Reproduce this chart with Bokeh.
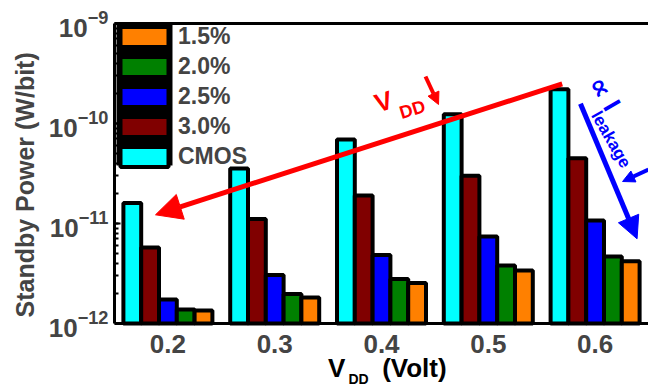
from bokeh.plotting import figure
from bokeh.models import (ColumnDataSource, Range1d, FixedTicker, Legend, LegendItem,
                          Arrow, NormalHead, Label, LabelSet, BoxAnnotation, Span, Title)
from bokeh.core.properties import value
from bokeh.transform import dodge
from bokeh.embed import file_html
from bokeh.resources import INLINE

# ---------------- data ----------------
vdd = ["0.2", "0.3", "0.4", "0.5", "0.6"]
cmos = [1.60e-11, 3.55e-11, 6.9e-11, 1.24e-10, 2.2e-10]
pct30 = [5.75e-12, 1.11e-11, 1.9e-11, 3.0e-11, 4.5e-11]
pct25 = [1.74e-12, 3.06e-12, 4.84e-12, 7.4e-12, 1.07e-11]
pct20 = [1.38e-12, 1.97e-12, 2.79e-12, 3.8e-12, 4.68e-12]
pct15 = [1.35e-12, 1.82e-12, 2.54e-12, 3.39e-12, 4.2e-12]

series_cols = ["cmos", "pct30", "pct25", "pct20", "pct15"]
series_names = ["CMOS", "3.0%", "2.5%", "2.0%", "1.5%"]
series_colors = ["#00FFFF", "#800000", "#0000FF", "#008000", "#FF8000"]
legend_order = ["1.5%", "2.0%", "2.5%", "3.0%", "CMOS"]

y_min, y_max = 1e-12, 1e-9          # axis span
y_view_min = 10 ** -12.63            # frame extends below the axis for the x-axis texts

idx = list(range(len(vdd)))
src = ColumnDataSource(dict(idx=idx, vdd=vdd, cmos=cmos, pct30=pct30, pct25=pct25,
                            pct20=pct20, pct15=pct15))

FONT = "Liberation Sans"

p = figure(width=648, height=386,
           x_range=Range1d(-0.5, len(vdd) - 0.5),
           y_range=Range1d(y_view_min, y_max), y_axis_type="log",
           x_axis_location="above",
           output_backend="svg", toolbar_location=None,
           min_border_left=114, min_border_right=0,
           min_border_top=23, min_border_bottom=0)
p.outline_line_color = None
p.grid.visible = False
p.background_fill_color = "white"
p.border_fill_color = "white"

# ---------------- bars ----------------
bar_w = 1.0 / 6
rends = {}
n = len(series_cols)
for k, (col, name, color) in enumerate(zip(series_cols, series_names, series_colors)):
    off = (k - (n - 1) / 2) * bar_w
    r = p.vbar(x=dodge("idx", off, range=p.x_range), top=col, bottom=y_min,
               width=bar_w, source=src, fill_color=color,
               line_color="black", line_width=4)
    rends[name] = r

# ---------------- axes ----------------
yax = p.yaxis[0]
yax.bounds = (y_min, y_max)
yax.major_label_text_font = FONT
yax.major_label_text_font_size = "26px"
yax.major_label_text_font_style = "bold"
yax.major_label_standoff = 6
yax.axis_line_width = 3
yax.major_tick_in = 6
yax.major_tick_out = 0
yax.major_tick_line_width = 2
yax.minor_tick_in = 4
yax.minor_tick_out = 0
yax.minor_tick_line_width = 2

p.add_layout(Title(text="Standby Power (W/bit)", align="left", offset=69,
                   text_font=FONT, text_font_size="25px", text_font_style="bold",
                   standoff=14), "left")

top_ax = p.xaxis[0]
top_ax.ticker = FixedTicker(ticks=[])
top_ax.major_label_text_font_size = "0px"
top_ax.major_tick_line_color = None
top_ax.minor_tick_line_color = None
top_ax.axis_line_width = 3

# bottom axis line and tick labels
p.add_layout(Span(location=y_min, dimension="width", line_color="black", line_width=3))
p.add_layout(LabelSet(x="idx", y=10 ** -12.20, text="vdd", source=src,
                      text_font=value(FONT), text_font_size=value("26px"),
                      text_font_style="bold",
                      text_align="center", text_baseline="middle"))

# ---------------- legend ----------------
p.add_layout(BoxAnnotation(left=-0.481, right=0.043, top=y_max, bottom=10 ** -10.42,
                           fill_color="black", fill_alpha=1.0, line_color=None))
legend = Legend(items=[LegendItem(label=nm, renderers=[rends[nm]]) for nm in legend_order],
                location="top_left", margin=0, padding=2, spacing=3,
                glyph_width=60, glyph_height=25, label_height=25, label_standoff=4,
                label_text_font=FONT, label_text_font_size="23px",
                label_text_font_style="bold", border_line_color=None,
                background_fill_alpha=0.0)
p.add_layout(legend)

# ---------------- annotations ----------------
def add_label(text, x, y, size, color, angle=0.0, align="center", baseline="middle",
              font=FONT):
    p.add_layout(Label(x=x, y=y, text=text, text_font=font, text_font_size=size,
                       text_font_style="bold", text_color=color, angle=angle,
                       text_align=align, text_baseline=baseline))

def add_arrow(x0, y0, x1, y1, color, lw, head):
    p.add_layout(Arrow(x_start=x0, y_start=y0, x_end=x1, y_end=y1,
                       line_color=color, line_width=lw,
                       end=NormalHead(size=head, fill_color=color, line_color=color,
                                      line_width=1)))

# red trend arrow
add_arrow(3.692, 10 ** -9.603, -0.116, 10 ** -10.913, "red", 5, 26)
add_label("V", 2.019, 10 ** -9.78, "26px", "red", angle=0.3)
add_label("DD", 2.290, 10 ** -9.86, "18px", "red", angle=0.3)
add_arrow(2.412, 10 ** -9.53, 2.534, 10 ** -9.81, "red", 4, 12)

# blue trend arrow
add_arrow(3.863, 10 ** -9.803, 4.393, 10 ** -11.153, "blue", 5, 22)
add_label("\u221d", 4.051, 10 ** -9.64, "28px", "blue", angle=-1.05, font="DejaVu Sans")
add_label("I", 4.159, 10 ** -9.82, "26px", "blue", angle=-1.05)
add_label("leakage", 4.149, 10 ** -10.16, "17px", "blue", angle=-1.05)
add_arrow(4.50, 10 ** -10.46, 4.257, 10 ** -10.58, "blue", 4, 12)

# x-axis title V_DD (Volt)
add_label("V", 1.50, 10 ** -12.44, "26px", "black", align="left")
add_label("DD", 1.69, 10 ** -12.55, "14px", "black", align="left")
add_label("(Volt)", 2.006, 10 ** -12.44, "26px", "black", align="left")

open("out.html", "w").write(file_html(p, INLINE))
